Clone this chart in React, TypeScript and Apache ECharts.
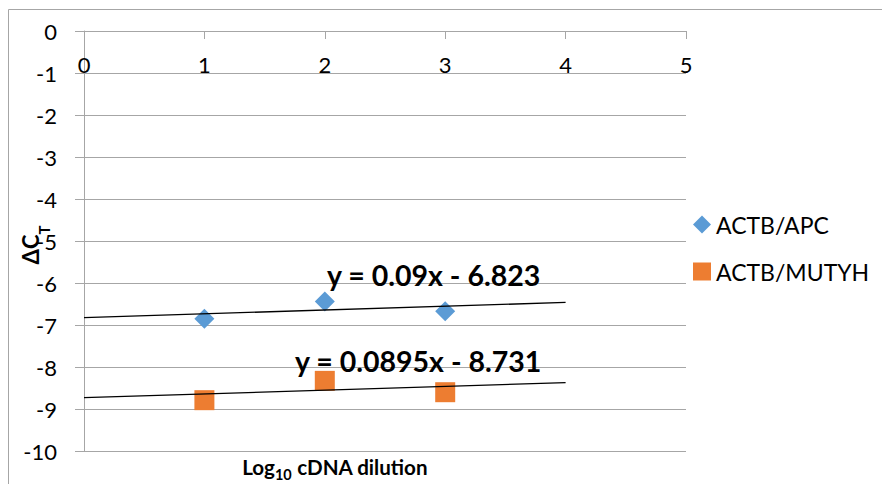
import React, { useEffect, useRef } from "react";
import * as echarts from "echarts";

const xTicks = [0, 1, 2, 3, 4, 5];
const dilutions = [1, 2, 3];
const apcValues = [-6.85, -6.44, -6.67];
const mutyhValues = [-8.79, -8.33, -8.6];
const seriesNames = ["ACTB/APC", "ACTB/MUTYH"];
const trendSlopes = [0.09, 0.0895];
const trendIntercepts = [-6.823, -8.731];
const trendRange = [0, 4];
const equationTexts = ["y = 0.09x - 6.823", "y = 0.0895x - 8.731"];

const FONT = "Lato";
const GRID = "#a6a6a6";

export default function App() {
  const ref = useRef<HTMLDivElement>(null);
  useEffect(() => {
    document.body.style.margin = "0";
    const chart = echarts.init(ref.current!, null, { renderer: "svg" });
    const trend = (i: number) =>
      trendRange.map((x) => [x, trendSlopes[i] * x + trendIntercepts[i]]);
    chart.setOption({
      animation: false,
      textStyle: { fontFamily: FONT },
      grid: { left: 84, right: 196, top: 31, bottom: 33 },
      xAxis: {
        type: "value",
        min: xTicks[0],
        max: xTicks[xTicks.length - 1],
        interval: 1,
        position: "top",
        axisLine: { onZero: false, lineStyle: { color: GRID, width: 1 } },
        axisTick: { show: true, inside: true, length: 8, lineStyle: { color: GRID } },
        axisLabel: { inside: true, margin: 22, color: "#000", fontSize: 22, fontFamily: FONT },
        splitLine: { show: false },
      },
      yAxis: {
        type: "value",
        min: -10,
        max: 0,
        interval: 1,
        axisLine: { show: true, lineStyle: { color: GRID, width: 1 } },
        axisTick: { show: true, length: 9, lineStyle: { color: GRID } },
        axisLabel: { margin: 27, color: "#000", fontSize: 22, fontFamily: FONT },
        splitLine: { show: true, lineStyle: { color: GRID, width: 1 } },
      },
      legend: {
        orient: "vertical",
        left: 693,
        top: 213,
        padding: 0,
        itemWidth: 18,
        itemHeight: 18,
        itemGap: 24,
        textStyle: { fontSize: 23, color: "#000", fontFamily: FONT },
        data: [
          { name: seriesNames[0], icon: "diamond" },
          { name: seriesNames[1], icon: "rect" },
        ],
      },
      series: [
        {
          name: seriesNames[0],
          type: "scatter",
          symbol: "diamond",
          symbolSize: 20,
          itemStyle: { color: "#5b9bd5", opacity: 1 },
          data: dilutions.map((x, i) => [x, apcValues[i]]),
          z: 3,
        },
        {
          name: seriesNames[1],
          type: "scatter",
          symbol: "rect",
          symbolSize: 20,
          itemStyle: { color: "#ed7d31", opacity: 1 },
          data: dilutions.map((x, i) => [x, mutyhValues[i]]),
          z: 3,
        },
        {
          name: "trend1",
          type: "line",
          data: trend(0),
          showSymbol: false,
          symbol: "none",
          lineStyle: { color: "#000", width: 1.3 },
          z: 4,
        },
        {
          name: "trend2",
          type: "line",
          data: trend(1),
          showSymbol: false,
          symbol: "none",
          lineStyle: { color: "#000", width: 1.3 },
          z: 4,
        },
      ],
      graphic: [
        {
          type: "rect",
          shape: { x: 8.5, y: 9.5, width: 900, height: 500 },
          style: { fill: "none", stroke: GRID, lineWidth: 1 },
          silent: true,
        },
        {
          type: "text",
          left: 327,
          top: 260,
          style: {
            text: equationTexts[0],
            font: `bold 28.5px ${FONT}`,
            fill: "#000",
          },
          z: 10,
        },
        {
          type: "text",
          left: 295,
          top: 346,
          style: {
            text: equationTexts[1],
            font: `bold 28.5px ${FONT}`,
            fill: "#000",
          },
          z: 10,
        },
        {
          type: "text",
          x: 30,
          y: 245,
          rotation: Math.PI / 2,
          style: {
            text: "{a|ΔC}{b|T}",
            align: "center",
            verticalAlign: "middle",
            rich: {
              a: { fontSize: 22, fontWeight: "bold", fontFamily: FONT, fill: "#000", verticalAlign: "middle", lineHeight: 30 },
              b: { fontSize: 15, fontWeight: "bold", fontFamily: FONT, fill: "#000", verticalAlign: "bottom", lineHeight: 30, padding: [0, 0, -6, 0] },
            },
          },
          z: 10,
        },
        {
          type: "text",
          x: 335,
          y: 467,
          style: {
            text: "{a|Log}{b|10}{a| cDNA dilution}",
            align: "center",
            verticalAlign: "middle",
            rich: {
              a: { fontSize: 20.6, fontWeight: "bold", fontFamily: FONT, fill: "#000", verticalAlign: "middle", lineHeight: 24 },
              b: { fontSize: 14.5, fontWeight: "bold", fontFamily: FONT, fill: "#000", verticalAlign: "bottom", lineHeight: 24, padding: [0, 0, -3, 0] },
            },
          },
          z: 10,
        },
      ],
    });
    return () => chart.dispose();
  }, []);
  return <div ref={ref} style={{ width: 882, height: 484 }} />;
}
